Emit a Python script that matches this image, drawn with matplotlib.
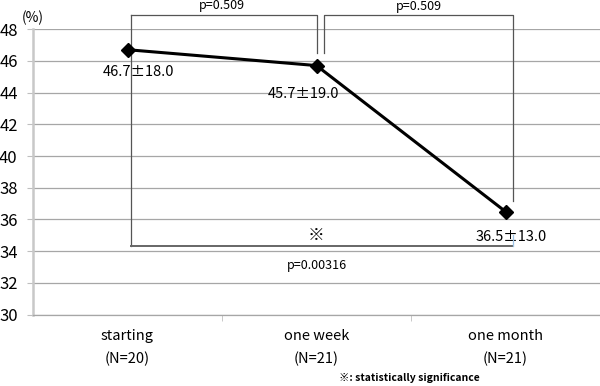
import matplotlib
matplotlib.use("Agg")
import matplotlib.pyplot as plt

plt.rcParams['font.family'] = ['Noto Sans CJK JP', 'DejaVu Sans']

categories = ["starting\n(N=20)", "one week\n(N=21)", "one month\n(N=21)"]
means = [46.7, 45.7, 36.5]
sds = [18.0, 19.0, 13.0]
yticks = [30, 32, 34, 36, 38, 40, 42, 44, 46, 48]
p_values = ["p=0.509", "p=0.509", "p=0.00316"]

fig = plt.figure(figsize=(6.0, 3.86), dpi=100)
ax = fig.add_axes([0.055, 0.1847, 0.945, 0.74])

x = list(range(len(categories)))
ax.plot(x, means, color='black', lw=2.2, marker='D', ms=7, zorder=5)

ax.set_xlim(-0.5, 2.5)
ax.set_ylim(30, 48)
ax.set_yticks(yticks)
ax.set_xticks(x)
ax.set_xticklabels(categories, fontsize=10.5, linespacing=1.75)
ax.set_xticks([0.5, 1.5], minor=True)
ax.tick_params(axis='x', which='major', length=0, pad=10)
ax.tick_params(axis='x', which='minor', length=4, color='#bfbfbf')
ax.tick_params(axis='y', length=4, color='#bfbfbf', labelsize=12, pad=7)
ax.grid(axis='y', color='#a6a6a6', lw=0.9)
ax.set_axisbelow(True)
for s in ['top', 'right']:
    ax.spines[s].set_visible(False)
ax.spines['left'].set_color('#c8c8c8')
ax.spines['left'].set_linewidth(1.8)
ax.spines['bottom'].set_color('#a6a6a6')
ax.spines['bottom'].set_linewidth(0.9)

# value labels
offs = [(0.06, 45.3), (-0.07, 43.9), (0.03, 34.9)]
for (dx, yy), m, s, xi in zip(offs, means, sds, x):
    ax.text(xi + dx, yy, f"{m}\u00b1{s}", ha='center', va='center', fontsize=10.5)

# significance brackets
bk = dict(color='#555555', lw=0.9, clip_on=False, zorder=3)
top = 48.9
ax.plot([0.016, 0.016], [top, 34.3], **bk)
ax.plot([0.016, 1.0, 1.0], [top, top, 46.5], **bk)
ax.plot([1.04, 1.04, 2.04, 2.04], [46.5, top, top, 37.15], **bk)
ax.plot([0.016, 2.04], [34.3, 34.3], color='#666666', lw=1.4, zorder=3)
ax.plot([2.04, 2.04], [34.3, 35.0], color='#9dc3e6', lw=0.9, zorder=3)

ax.text(0.5, 49.5, p_values[0], ha='center', va='center', fontsize=9, clip_on=False)
ax.text(1.54, 49.4, p_values[1], ha='center', va='center', fontsize=9, clip_on=False)
ax.text(1.0, 33.1, p_values[2], ha='center', va='center', fontsize=9)
ax.text(1.0, 35.0, "\u203b", ha='center', va='center', fontsize=12)

ax.text(-0.5, 48.7, "(%)", ha='center', va='center', fontsize=10, clip_on=False)
fig.text(0.683, 0.02, "\u203b: statistically significance", ha='center', va='center',
         fontsize=7.5, fontweight='bold')

fig.savefig("out.png", dpi=100)
